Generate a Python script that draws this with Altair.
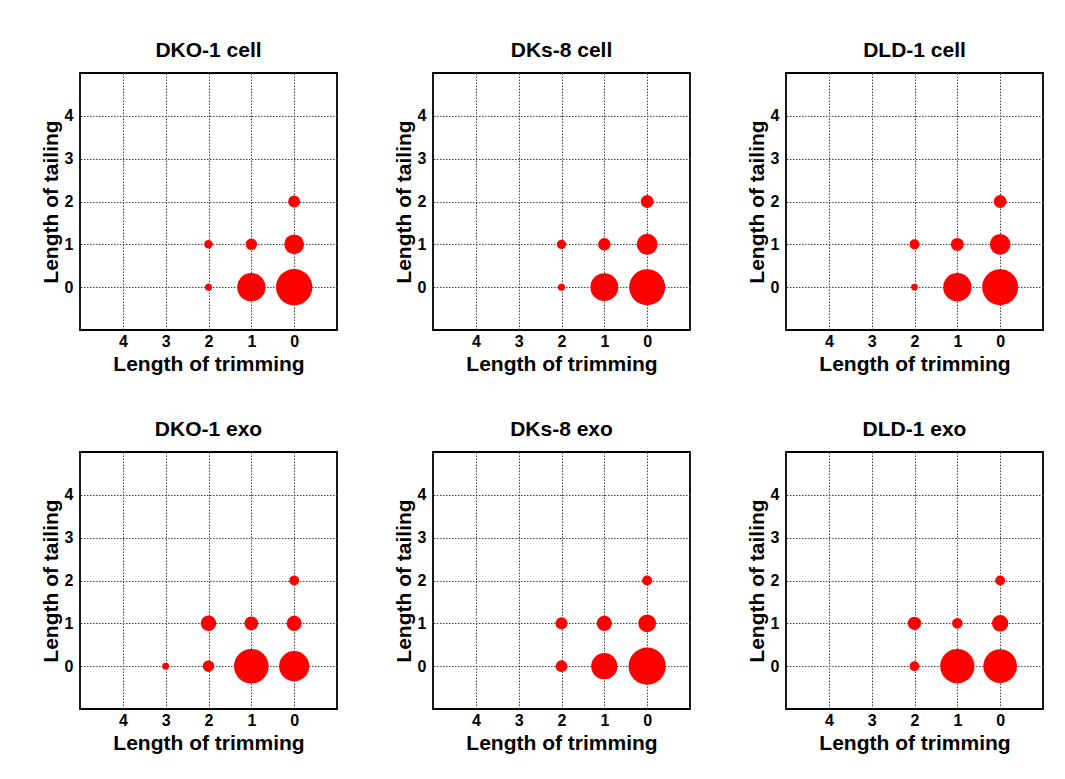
import altair as alt
import pandas as pd

panel_names = ["DKO-1 cell", "DKs-8 cell", "DLD-1 cell", "DKO-1 exo", "DKs-8 exo", "DLD-1 exo"]

# (trimming, tailing) positions per panel
trim_cell = [0, 1, 0, 0, 1, 2, 2]
tail_cell = [0, 0, 1, 2, 1, 1, 0]
trim_exo_dko = [0, 1, 0, 0, 1, 2, 2, 3]
tail_exo_dko = [0, 0, 1, 2, 1, 1, 0, 0]

# proportion of reads (%)
pct_dko1_cell = [45.2, 27.5, 13.4, 4.9, 4.5, 2.5, 1.7]
pct_dks8_cell = [44.3, 26.5, 15.0, 5.7, 5.3, 3.0, 1.7]
pct_dld1_cell = [44.3, 27.5, 14.7, 5.7, 5.7, 3.5, 1.5]
pct_dko1_exo = [31.1, 40.9, 7.8, 3.3, 6.5, 8.3, 4.5, 1.6]
pct_dks8_exo = [47.4, 23.6, 10.8, 3.5, 8.1, 5.0, 4.8]
pct_dld1_exo = [38.8, 40.1, 9.3, 3.3, 3.9, 6.1, 3.3]

panel_data = [
    (trim_cell, tail_cell, pct_dko1_cell),
    (trim_cell, tail_cell, pct_dks8_cell),
    (trim_cell, tail_cell, pct_dld1_cell),
    (trim_exo_dko, tail_exo_dko, pct_dko1_exo),
    (trim_cell, tail_cell, pct_dks8_exo),
    (trim_cell, tail_cell, pct_dld1_exo),
]

tick_vals = [0, 1, 2, 3, 4]
FONT = "Liberation Sans"


def panel(name, trims, tails, vals):
    df = pd.DataFrame({"trim": trims, "tail": tails, "pct": vals})
    return (
        alt.Chart(df, title=alt.TitleParams(name, offset=12))
        .mark_circle(color="#ff0000", opacity=1)
        .encode(
            x=alt.X(
                "trim:Q",
                scale=alt.Scale(domain=[-1, 5], reverse=True, nice=False, zero=False),
                axis=alt.Axis(values=tick_vals, title="Length of trimming",
                              labelPadding=3, titlePadding=4),
            ),
            y=alt.Y(
                "tail:Q",
                scale=alt.Scale(domain=[-1, 5], nice=False, zero=False),
                axis=alt.Axis(values=tick_vals, title="Length of tailing",
                              labelPadding=7, titlePadding=3),
            ),
            size=alt.Size("pct:Q", scale=alt.Scale(domain=[0, 50], range=[0, 1461]), legend=None),
        )
        .properties(width=257, height=257)
    )


charts = [panel(n, *d) for n, d in zip(panel_names, panel_data)]
row1 = alt.hconcat(*charts[:3], spacing=54)
row2 = alt.hconcat(*charts[3:], spacing=54)

chart = (
    alt.vconcat(row1, row2, spacing=43)
    .properties(padding={"left": 31, "top": 31, "right": 5, "bottom": 5})
    .configure_view(stroke="black", strokeWidth=1.8)
    .configure_axis(
        domain=False,
        ticks=False,
        tickSize=0,
        grid=True,
        gridColor="#444444",
        gridDash=[1.5, 1.5],
        gridWidth=1,
        labelFont=FONT,
        labelFontWeight="bold",
        labelFontSize=16,
        labelColor="black",
        titleFont=FONT,
        titleFontWeight="bold",
        titleFontSize=21,
        titleColor="black",
    )
    .configure_title(font=FONT, fontWeight="bold", fontSize=21, color="black", anchor="middle")
)

chart.save("out.html", embed_options={"renderer": "svg", "actions": False})
